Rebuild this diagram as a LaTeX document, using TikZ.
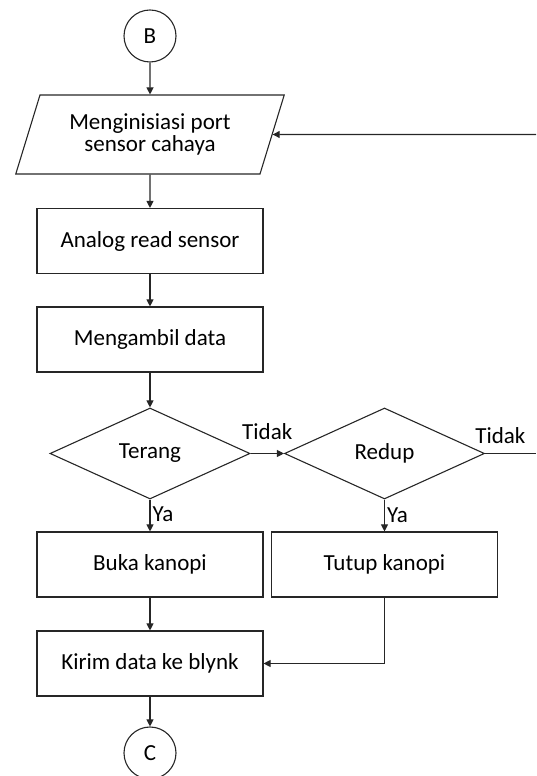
\documentclass[tikz,border=0pt]{standalone}
\usepackage{fontspec}
\setmainfont{Carlito}
\usetikzlibrary{shapes.geometric,arrows.meta,positioning}

\begin{document}
\begin{tikzpicture}[
    x=1pt,y=1pt,
    every node/.style={font=\fontsize{23}{22}\selectfont},
    line/.style={draw=black!85, line width=1.1pt},
    flow/.style={line, -{Triangle[length=7pt,width=7pt]}},
    process/.style={line, rectangle, minimum width=226, minimum height=65},
    decision/.style={line, diamond, aspect=2.2, inner sep=0pt, minimum width=200, minimum height=91},
    inout/.style={line, trapezium, trapezium left angle=69, trapezium right angle=111,
        trapezium stretches=true, minimum width=269, minimum height=79, align=center},
    terminal/.style={line, circle, minimum size=52, inner sep=0pt},
    answer/.style={inner sep=2pt}
]
    \useasboundingbox (0,0) rectangle (536,776);

    \node[terminal] (startB) at (150,740) {B};
    \node[inout] (init) at (150,641.5) {Menginisiasi port\\sensor cahaya};
    \node[process] (analog) at (150,535) {Analog read sensor};
    \node[process] (ambil) at (150,436.5) {Mengambil data};
    \node[decision] (terang) at (150,322.5) {Terang};
    \node[decision] (redup) at (384.5,322.5) {Redup};
    \node[process] (buka) at (150,211.5) {Buka kanopi};
    \node[process] (tutup) at (384.5,211.5) {Tutup kanopi};
    \node[process] (kirim) at (150,112.5) {Kirim data ke blynk};
    \node[terminal] (endC) at (150,23) {C};
    \coordinate (loopin) at (536,641.5);
    \coordinate (loopout) at (536,322.5);

    \draw[flow] (startB) -- (init);
    \draw[flow] (init) -- (analog);
    \draw[flow] (analog) -- (ambil);
    \draw[flow] (ambil) -- (terang);
    \draw[flow] (terang) -- node[answer, above=11pt] {Tidak} (redup);
    \draw[line] (redup) -- node[answer, pos=0.3, above=7pt] {Tidak} (loopout);
    \draw[flow] (loopin) -- (init);
    \draw[flow] (terang) -- node[answer, pos=0.45, right] {Ya} (buka);
    \draw[flow] (redup) -- node[answer, right] {Ya} (tutup);
    \draw[flow] (buka) -- (kirim);
    \draw[flow] (tutup) |- (kirim);
    \draw[flow] (kirim) -- (endC);
\end{tikzpicture}
\end{document}
